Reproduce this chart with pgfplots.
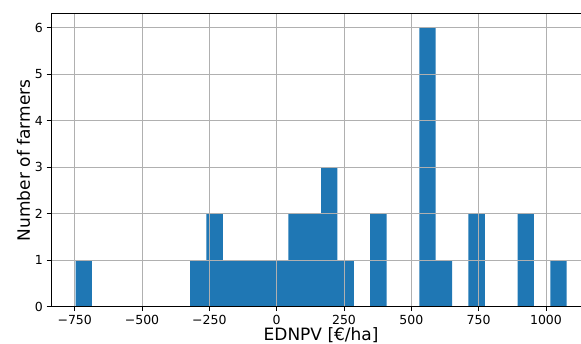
\documentclass[border=0pt]{standalone}
\usepackage{fontspec}
\setmainfont{DejaVu Sans}
\usepackage{pgfplots}
\pgfplotsset{compat=1.18}
\definecolor{tabblue}{HTML}{1F77B4}
\definecolor{gridgray}{HTML}{B0B0B0}
\begin{document}
\begin{tikzpicture}
\path[use as bounding box] (0,0) rectangle (581pt,344pt);
\clip (-1pt,-1pt) rectangle (581pt,345pt);
\begin{axis}[
  at={(51pt,37.3pt)}, anchor=south west,
  scale only axis, width=540.2pt, height=292.7pt,
  xmin=-838, xmax=1168, ymin=0, ymax=6.3,
  axis on top,
  axis x line*=box, axis y line*=left,
  axis line style={black, line width=1pt, -},
  x axis line style={-}, y axis line style={-},
  grid=major,
  major grid style={gridgray, line width=0.9pt},
  tick align=outside, major tick length=4.4pt,
  tick style={black, line width=0.9pt},
  xtick={-750,-500,-250,0,250,500,750,1000},
  xticklabels={−750,−500,−250,0,250,500,750,1000},
  ytick={0,1,2,3,4,5,6},
  yticklabels={0,1,2,3,4,5,6},
  xtick pos=bottom, ytick pos=left,
  ticklabel style={font=\fontsize{12.5}{15}\selectfont, inner sep=0pt},
  xticklabel style={anchor=north, yshift=-4pt},
  yticklabel style={anchor=east, xshift=-3.6pt},
  xlabel={EDNPV [€/ha]},
  ylabel={Number of farmers},
  label style={font=\fontsize{17}{20}\selectfont, inner sep=0pt},
  xlabel style={at={(axis description cs:0.5,-0.1155)}, anchor=base},
  ylabel style={at={(axis description cs:-0.0389,0.5)}, anchor=base},
]
\addplot[ybar interval, fill=tabblue, draw=none] coordinates {
(-747,1) (-686.2,0) (-625.4,0) (-564.6,0) (-503.8,0) (-443,0) (-382.2,0)
(-321.4,1) (-260.6,2) (-199.8,1) (-139,1) (-78.2,1) (-17.4,1) (43.4,2)
(104.2,2) (165,3) (225.8,1) (286.6,0) (347.4,2) (408.2,0) (469,0)
(529.8,6) (590.6,1) (651.4,0) (712.2,2) (773,0) (833.8,0) (894.6,2)
(955.4,0) (1016.2,1) (1077,0)
};
\end{axis}
\end{tikzpicture}
\end{document}
